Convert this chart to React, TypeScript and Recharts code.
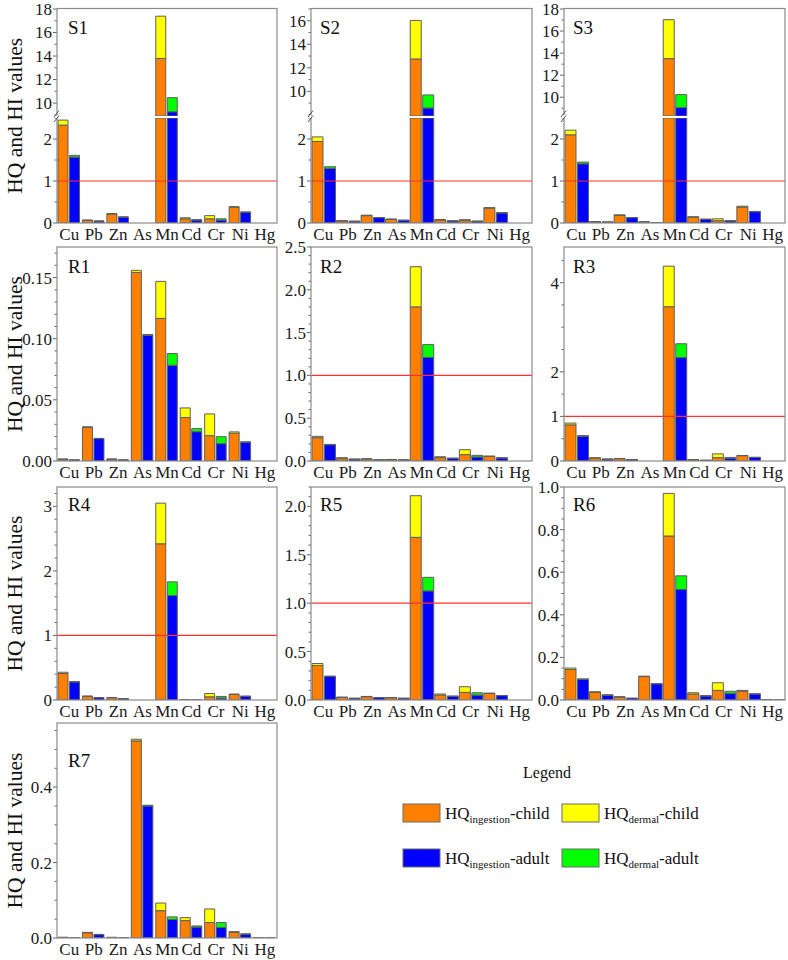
import React from 'react';
import { BarChart, Bar, XAxis, YAxis, ReferenceLine } from 'recharts';

const FONT = '"Liberation Serif", "Times New Roman", "DejaVu Serif", serif';

const ELEMENTS = ['Cu', 'Pb', 'Zn', 'As', 'Mn', 'Cd', 'Cr', 'Ni', 'Hg'];

// ---- S1 ----
const S1_ingChild = [2.33, 0.064, 0.215, 0.0, 13.79, 0.1, 0.1, 0.375, 0.0];
const S1_derChild = [0.12, 0.004, 0.008, 0.0, 3.6, 0.025, 0.075, 0.015, 0.0];
const S1_ingAdult = [1.57, 0.045, 0.14, 0.0, 9.26, 0.07, 0.07, 0.255, 0.0];
const S1_derAdult = [0.04, 0.002, 0.004, 0.0, 1.2, 0.01, 0.03, 0.008, 0.0];
// ---- S2 ----
const S2_ingChild = [1.94, 0.05, 0.175, 0.088, 12.75, 0.072, 0.056, 0.35, 0.0];
const S2_derChild = [0.11, 0.006, 0.012, 0.003, 3.28, 0.008, 0.024, 0.017, 0.0];
const S2_ingAdult = [1.3, 0.04, 0.127, 0.064, 8.58, 0.048, 0.04, 0.24, 0.0];
const S2_derAdult = [0.04, 0.002, 0.005, 0.002, 1.11, 0.003, 0.005, 0.006, 0.0];
// ---- S3 ----
const S3_ingChild = [2.1, 0.03, 0.18, 0.025, 13.5, 0.135, 0.055, 0.38, 0.0];
const S3_derChild = [0.11, 0.002, 0.015, 0.002, 3.53, 0.015, 0.045, 0.02, 0.0];
const S3_ingAdult = [1.41, 0.022, 0.127, 0.01, 9.06, 0.087, 0.048, 0.27, 0.0];
const S3_derAdult = [0.04, 0.001, 0.004, 0.001, 1.18, 0.004, 0.007, 0.006, 0.0];
// ---- R1 ----
const R1_ingChild = [0.0014, 0.0276, 0.0014, 0.1542, 0.1166, 0.0355, 0.0207, 0.0227, 0.0];
const R1_derChild = [0.0002, 0.0003, 0.0002, 0.0017, 0.0303, 0.0079, 0.0178, 0.0011, 0.0];
const R1_ingAdult = [0.0008, 0.0183, 0.0008, 0.1029, 0.0783, 0.024, 0.0142, 0.0153, 0.0];
const R1_derAdult = [0.0001, 0.0002, 0.0001, 0.0006, 0.0096, 0.0025, 0.0057, 0.0004, 0.0];
// ---- R2 ----
const R2_ingChild = [0.272, 0.027, 0.02, 0.016, 1.8, 0.039, 0.074, 0.054, 0.0];
const R2_derChild = [0.016, 0.012, 0.007, 0.002, 0.47, 0.011, 0.058, 0.003, 0.0];
const R2_ingAdult = [0.19, 0.02, 0.012, 0.012, 1.21, 0.031, 0.047, 0.035, 0.0];
const R2_derAdult = [0.004, 0.002, 0.002, 0.001, 0.15, 0.002, 0.019, 0.002, 0.0];
// ---- R3 ----
const R3_ingChild = [0.81, 0.06, 0.052, 0.0, 3.46, 0.03, 0.075, 0.12, 0.0];
const R3_derChild = [0.04, 0.015, 0.004, 0.0, 0.91, 0.003, 0.085, 0.005, 0.0];
const R3_ingAdult = [0.55, 0.04, 0.03, 0.0, 2.32, 0.015, 0.06, 0.08, 0.0];
const R3_derAdult = [0.02, 0.003, 0.002, 0.0, 0.31, 0.001, 0.02, 0.002, 0.0];
// ---- R4 ----
const R4_ingChild = [0.41, 0.057, 0.036, 0.0, 2.42, 0.005, 0.05, 0.087, 0.0];
const R4_derChild = [0.02, 0.003, 0.002, 0.0, 0.63, 0.001, 0.05, 0.003, 0.0];
const R4_ingAdult = [0.28, 0.036, 0.02, 0.0, 1.62, 0.004, 0.03, 0.057, 0.0];
const R4_derAdult = [0.005, 0.001, 0.001, 0.0, 0.21, 0.0, 0.025, 0.001, 0.0];
// ---- R5 ----
const R5_ingChild = [0.356, 0.027, 0.034, 0.024, 1.68, 0.051, 0.079, 0.068, 0.0];
const R5_derChild = [0.021, 0.002, 0.003, 0.001, 0.43, 0.011, 0.058, 0.002, 0.0];
const R5_ingAdult = [0.243, 0.017, 0.024, 0.017, 1.127, 0.038, 0.051, 0.045, 0.0];
const R5_derAdult = [0.004, 0.001, 0.001, 0.001, 0.14, 0.002, 0.024, 0.001, 0.0];
// ---- R6 ----
const R6_ingChild = [0.143, 0.037, 0.014, 0.11, 0.77, 0.028, 0.045, 0.042, 0.001];
const R6_derChild = [0.007, 0.001, 0.001, 0.002, 0.2, 0.006, 0.036, 0.003, 0.001];
const R6_ingAdult = [0.097, 0.023, 0.009, 0.076, 0.519, 0.019, 0.031, 0.028, 0.001];
const R6_derAdult = [0.002, 0.001, 0.0, 0.001, 0.064, 0.001, 0.01, 0.001, 0.0];
// ---- R7 ----
const R7_ingChild = [0.002, 0.014, 0.002, 0.5225, 0.0724, 0.046, 0.041, 0.015, 0.001];
const R7_derChild = [0.0, 0.001, 0.0, 0.0045, 0.0203, 0.008, 0.036, 0.002, 0.0];
const R7_ingAdult = [0.001, 0.009, 0.001, 0.35, 0.049, 0.029, 0.028, 0.01, 0.0005];
const R7_derAdult = [0.0, 0.0005, 0.0, 0.002, 0.007, 0.003, 0.013, 0.001, 0.0];

const LEGEND_ITEMS = [
  { key: 'ic', main: 'HQ', sub: 'ingestion', tail: '-child' },
  { key: 'dc', main: 'HQ', sub: 'dermal', tail: '-child' },
  { key: 'ia', main: 'HQ', sub: 'ingestion', tail: '-adult' },
  { key: 'da', main: 'HQ', sub: 'dermal', tail: '-adult' },
];

const COLORS: Record<string, string> = { ic: '#FF8000', dc: '#FFFF00', ia: '#0000FF', da: '#00FF00' };
const BAR_STROKE = '#5e5e5e';
const FRAME = '#8a8a8a';

// layout
const COL_LEFT = [57, 311, 564];
const COL_W = [220, 221, 221];
const LABEL_DX = [11, 9, 9];
const ROW_TOP = [8.5, 247, 487, 723];
const ROW_BOTTOM = [223, 461, 700, 938];
const BREAK_TOP = 115.5;
const BREAK_BOTTOM = 118;
const YW = 52;
const XH = 26;
const PAD = 10;

const f0 = (v: number) => String(Math.round(v));
const f1 = (v: number) => v.toFixed(1);
const f2 = (v: number) => v.toFixed(2);

function buildRows(ic: number[], dc: number[], ia: number[], da: number[]) {
  return ELEMENTS.map((el, i) => ({ el, ic: ic[i], dc: dc[i], ia: ia[i], da: da[i] }));
}

function stepTicks(lo: number, hi: number, step: number) {
  const out: number[] = [];
  const start = Math.ceil(lo / step - 1e-9);
  for (let k = start; k * step <= hi + 1e-9; k++) out.push(Math.round(k * step * 1e6) / 1e6);
  return out;
}

type Seg = {
  top: number;
  bottom: number;
  domain: [number, number];
  major: number[];
  minorStep: number;
  fmt: (v: number) => string;
  showX: boolean;
  ref: boolean;
};

type PanelDef = {
  name: string;
  col: number;
  row: number;
  rows: any[];
  segs: Seg[];
  labelDy: number;
};

function sPanelSegs(row: number, upper: [number, number], upperMajor: number[]): Seg[] {
  return [
    { top: ROW_TOP[row], bottom: BREAK_TOP, domain: upper, major: upperMajor, minorStep: 1, fmt: f0, showX: false, ref: false },
    { top: BREAK_BOTTOM, bottom: ROW_BOTTOM[row], domain: [0, 2.5], major: [0, 1, 2], minorStep: 0.5, fmt: f0, showX: true, ref: true },
  ];
}

function single(row: number, domain: [number, number], major: number[], minorStep: number, fmt: (v: number) => string, ref: boolean): Seg[] {
  return [{ top: ROW_TOP[row], bottom: ROW_BOTTOM[row], domain, major, minorStep, fmt, showX: true, ref }];
}

const PANELS: PanelDef[] = [
  { name: 'S1', col: 0, row: 0, rows: buildRows(S1_ingChild, S1_derChild, S1_ingAdult, S1_derAdult), segs: sPanelSegs(0, [8.9, 18], [10, 12, 14, 16, 18]), labelDy: 25 },
  { name: 'S2', col: 1, row: 0, rows: buildRows(S2_ingChild, S2_derChild, S2_ingAdult, S2_derAdult), segs: sPanelSegs(0, [7.9, 17], [10, 12, 14, 16]), labelDy: 25 },
  { name: 'S3', col: 2, row: 0, rows: buildRows(S3_ingChild, S3_derChild, S3_ingAdult, S3_derAdult), segs: sPanelSegs(0, [8.3, 18], [10, 12, 14, 16, 18]), labelDy: 25 },
  { name: 'R1', col: 0, row: 1, rows: buildRows(R1_ingChild, R1_derChild, R1_ingAdult, R1_derAdult), segs: single(1, [0, 0.175], [0, 0.05, 0.1, 0.15], 0.01, f2, false), labelDy: 26 },
  { name: 'R2', col: 1, row: 1, rows: buildRows(R2_ingChild, R2_derChild, R2_ingAdult, R2_derAdult), segs: single(1, [0, 2.5], [0, 0.5, 1, 1.5, 2, 2.5], 0.1, f1, true), labelDy: 26 },
  { name: 'R3', col: 2, row: 1, rows: buildRows(R3_ingChild, R3_derChild, R3_ingAdult, R3_derAdult), segs: single(1, [0, 4.8], [0, 1, 2, 4], 0.5, f0, true), labelDy: 26 },
  { name: 'R4', col: 0, row: 2, rows: buildRows(R4_ingChild, R4_derChild, R4_ingAdult, R4_derAdult), segs: single(2, [0, 3.3], [0, 1, 2, 3], 0.2, f0, true), labelDy: 23.5 },
  { name: 'R5', col: 1, row: 2, rows: buildRows(R5_ingChild, R5_derChild, R5_ingAdult, R5_derAdult), segs: single(2, [0, 2.2], [0, 0.5, 1, 1.5, 2], 0.1, f1, true), labelDy: 23.5 },
  { name: 'R6', col: 2, row: 2, rows: buildRows(R6_ingChild, R6_derChild, R6_ingAdult, R6_derAdult), segs: single(2, [0, 1], [0, 0.2, 0.4, 0.6, 0.8, 1], 0.05, f1, false), labelDy: 23.5 },
  { name: 'R7', col: 0, row: 3, rows: buildRows(R7_ingChild, R7_derChild, R7_ingAdult, R7_derAdult), segs: single(3, [0, 0.57], [0, 0.2, 0.4], 0.05, f1, false), labelDy: 44 },
];

function renderYTick(p: any, seg: Seg) {
  const { x, y, payload } = p;
  const v = payload.value as number;
  const isMajor = seg.major.some((m) => Math.abs(m - v) < 1e-9);
  return (
    <g>
      <line x1={x - (isMajor ? 4 : 2.5)} x2={x} y1={y} y2={y} stroke="#666" strokeWidth={1} />
      {isMajor && (
        <text x={x - 5} y={y} dy="0.35em" textAnchor="end" fontSize={17} style={{ fontFamily: FONT }} fill="#1a1a1a">
          {seg.fmt(v)}
        </text>
      )}
    </g>
  );
}

function Segment({ rows, left, width, seg }: { rows: any[]; left: number; width: number; seg: Seg }) {
  const ticks = stepTicks(seg.domain[0], seg.domain[1], seg.minorStep);
  seg.major.forEach((m) => {
    if (!ticks.some((t) => Math.abs(t - m) < 1e-9)) ticks.push(m);
  });
  ticks.sort((a, b) => a - b);
  const h = seg.bottom - seg.top;
  return (
    <div style={{ position: 'absolute', left: left - YW, top: seg.top - PAD }}>
      <BarChart
        width={YW + width + PAD}
        height={h + PAD + (seg.showX ? XH : 0)}
        data={rows}
        margin={{ top: PAD, right: PAD, bottom: 0, left: 0 }}
        barCategoryGap={1}
        barGap={1.5}
        style={{ fontFamily: FONT }}
      >
        <XAxis
          dataKey="el"
          hide={!seg.showX}
          height={XH}
          interval={0}
          tickLine={false}
          axisLine={false}
          tickSize={0}
          tickMargin={5}
          tick={{ fontSize: 17, fill: '#1a1a1a', style: { fontFamily: FONT } }}
        />
        <YAxis
          type="number"
          width={YW}
          domain={seg.domain}
          allowDataOverflow
          ticks={ticks}
          interval={0}
          tickLine={false}
          axisLine={false}
          tickSize={0}
          tickMargin={0}
          tick={(p: any) => renderYTick(p, seg)}
        />
        {seg.ref && <ReferenceLine y={1} stroke="#ff3030" strokeWidth={1.2} />}
        <Bar dataKey="ic" stackId="c" fill={COLORS.ic} stroke={BAR_STROKE} strokeWidth={1} isAnimationActive={false} />
        <Bar dataKey="dc" stackId="c" fill={COLORS.dc} stroke={BAR_STROKE} strokeWidth={1} isAnimationActive={false} />
        <Bar dataKey="ia" stackId="a" fill={COLORS.ia} stroke={BAR_STROKE} strokeWidth={1} isAnimationActive={false} />
        <Bar dataKey="da" stackId="a" fill={COLORS.da} stroke={BAR_STROKE} strokeWidth={1} isAnimationActive={false} />
      </BarChart>
    </div>
  );
}

function Overlay() {
  const tf = { fontFamily: FONT };
  return (
    <svg width={788} height={960} style={{ position: 'absolute', left: 0, top: 0, pointerEvents: 'none' }}>
      {PANELS.map((p) => {
        const L = COL_LEFT[p.col];
        const W = COL_W[p.col];
        const T = ROW_TOP[p.row];
        const B = ROW_BOTTOM[p.row];
        const broken = p.segs.length > 1;
        return (
          <g key={p.name}>
            <rect x={L} y={T} width={W} height={B - T} fill="none" stroke={FRAME} strokeWidth={1.2} />
            {broken && (
              <g>
                <rect x={L - 2} y={BREAK_TOP} width={3.5} height={BREAK_BOTTOM - BREAK_TOP} fill="#fff" />
                <line x1={L - 3} y1={117} x2={L + 2} y2={110.5} stroke="#555" strokeWidth={1} />
                <line x1={L - 3} y1={122} x2={L + 2} y2={115.5} stroke="#555" strokeWidth={1} />
              </g>
            )}
            <text x={L + LABEL_DX[p.col]} y={T + p.labelDy} fontSize={19} style={tf} fill="#111">
              {p.name}
            </text>
            {p.col === 0 && (
              <text
                transform={`translate(22, ${(T + B) / 2}) rotate(-90)`}
                textAnchor="middle"
                fontSize={21.5}
                style={tf}
                fill="#111"
              >
                HQ and HI values
              </text>
            )}
          </g>
        );
      })}
      <text x={547} y={778} textAnchor="middle" fontSize={16} style={tf} fill="#111">
        Legend
      </text>
      {LEGEND_ITEMS.map((it, i) => {
        const cx = i % 2 === 0 ? 403 : 562;
        const cy = i < 2 ? 804 : 849;
        return (
          <g key={it.key}>
            <rect x={cx} y={cy} width={37} height={18} fill={COLORS[it.key]} stroke="#6a6a6a" strokeWidth={1} />
            <text x={cx + 42} y={cy + 14.5} fontSize={17} style={tf} fill="#111">
              <tspan>{it.main}</tspan>
              <tspan dy={4} fontSize={11}>{it.sub}</tspan>
              <tspan dy={-4}>{it.tail}</tspan>
            </text>
          </g>
        );
      })}
    </svg>
  );
}

export default function App() {
  return (
    <div style={{ position: 'absolute', left: 0, top: 0, width: 788, height: 960, background: '#fff', fontFamily: FONT }}>
      {PANELS.map((p) =>
        p.segs.map((seg, si) => (
          <Segment key={p.name + si} rows={p.rows} left={COL_LEFT[p.col]} width={COL_W[p.col]} seg={seg} />
        ))
      )}
      <Overlay />
    </div>
  );
}
